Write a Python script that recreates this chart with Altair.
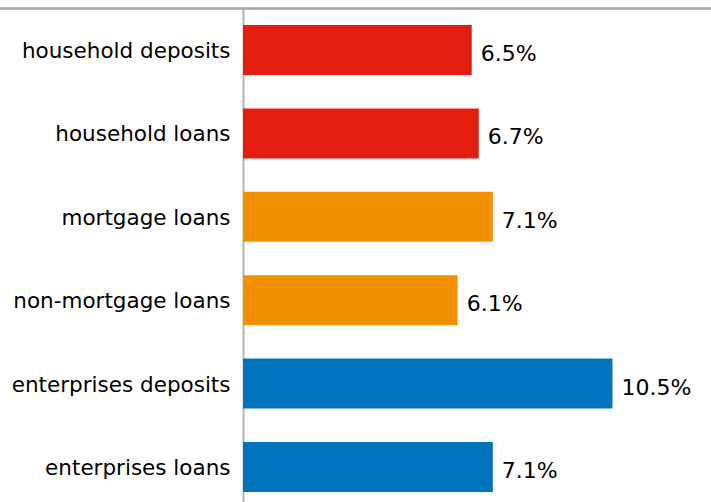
import altair as alt
import pandas as pd

categories = ["household deposits", "household loans", "mortgage loans",
              "non-mortgage loans", "enterprises deposits", "enterprises loans"]
values = [6.5, 6.7, 7.1, 6.1, 10.5, 7.1]
groups = ["household", "household", "mortgage", "mortgage", "enterprise", "enterprise"]
labels = ["6.5%", "6.7%", "7.1%", "6.1%", "10.5%", "7.1%"]

group_names = ["household", "mortgage", "enterprise"]
group_colors = ["#E31E0E", "#F39200", "#0075BE"]

df = pd.DataFrame({"category": categories, "value": values,
                   "group": groups, "label": labels})

FONT = "DejaVu Sans"

y_enc = alt.Y("category:N", sort=categories,
              scale=alt.Scale(paddingInner=0.4, paddingOuter=0.162, align=0.63),
              axis=alt.Axis(title=None, ticks=False, labelFontSize=21.5,
                            labelFont=FONT, labelColor="#000000", labelPadding=13,
                            labelOffset=2,
                            domainColor="#b4b4b4", domainWidth=2, labelLimit=300))
x_enc = alt.X("value:Q", scale=alt.Scale(domain=[0, 13.3], nice=False, zero=True),
              axis=None)

bars = alt.Chart(df).mark_bar().encode(
    y=y_enc, x=x_enc,
    color=alt.Color("group:N", scale=alt.Scale(domain=group_names, range=group_colors),
                    legend=None),
)

text = alt.Chart(df).mark_text(align="left", baseline="middle", dx=9, dy=4,
                               fontSize=22, font=FONT, color="#000000").encode(
    y=alt.Y("category:N", sort=categories), x="value:Q", text="label:N")

top_line = alt.Chart(df).mark_rule(color="#a8a8a8", strokeWidth=1.5, clip=False).encode(
    x=alt.value(-243), x2=alt.value(468), y=alt.value(0.5))

chart = alt.layer(bars, text, top_line).properties(
    width=468, height=494,
    autosize=alt.AutoSizeParams(type="none"),
    padding={"left": 243, "top": 8, "right": 0, "bottom": 0},
).configure_view(stroke=None).configure(background="white")

chart.save("out.html", embed_options={"renderer": "svg", "actions": False})
